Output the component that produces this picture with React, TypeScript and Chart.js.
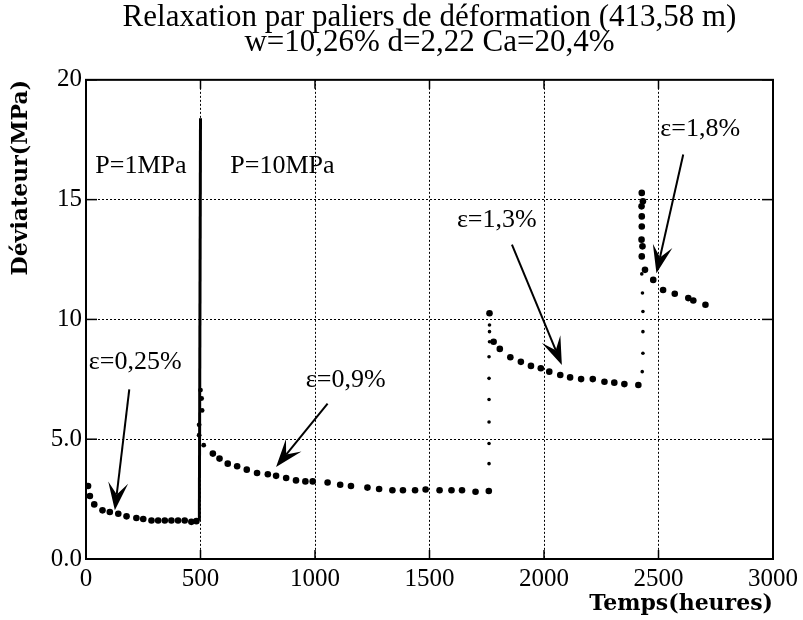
import React, { useEffect, useRef } from 'react';
import { Chart, registerables } from 'chart.js';

Chart.register(...registerables);

// ---- text ----
const titleLines = ['Relaxation par paliers de déformation (413,58 m)', 'w=10,26% d=2,22 Ca=20,4%'];
const xAxisTitle = 'Temps(heures)';
const yAxisTitle = 'Déviateur(MPa)';

// ---- ticks ----
const xTicks = [0, 500, 1000, 1500, 2000, 2500, 3000];
const xTickLabels = ['0', '500', '1000', '1500', '2000', '2500', '3000'];
const yTicks = [0, 5, 10, 15, 20];
const yTickLabels = ['0.0', '5.0', '10', '15', '20'];

// ---- data: step eps=0,25% (P=1MPa) ----
const seg1Time = [9, 17, 36, 72, 104, 141, 177, 220, 250, 286, 315, 344, 373, 402, 431, 460, 482];
const seg1Dev = [3.05, 2.63, 2.28, 2.03, 1.96, 1.89, 1.78, 1.71, 1.67, 1.61, 1.61, 1.61, 1.61, 1.61, 1.61, 1.55, 1.58];

// loading jump at ~500 h (dense trace)
const jump1Time = [495, 500];
const jump1Dev = [1.6, 18.4];
const jump1PtsTime = [500, 505, 507, 494, 494, 514];
const jump1PtsDev = [7.05, 6.7, 6.2, 5.6, 5.17, 4.75];

// ---- step eps=0,9% ----
const seg2Time = [554, 583, 619, 660, 702, 747, 794, 830, 874, 917, 958, 990, 1055, 1110, 1157, 1229, 1280, 1338, 1384, 1437, 1483, 1544, 1596, 1642, 1701, 1759];
const seg2Dev = [4.4, 4.19, 3.98, 3.87, 3.73, 3.59, 3.54, 3.47, 3.38, 3.28, 3.24, 3.24, 3.19, 3.1, 3.05, 2.98, 2.92, 2.87, 2.87, 2.87, 2.9, 2.87, 2.87, 2.87, 2.81, 2.84];

// jump at ~1760 h
const jump2Time = [1760, 1760, 1760, 1760, 1760, 1760, 1762, 1762, 1762];
const jump2Dev = [3.98, 4.82, 5.72, 6.66, 7.54, 8.44, 9.49, 9.77, 9.07];

// ---- step eps=1,3% ----
const seg3Time = [1762, 1780, 1807, 1853, 1899, 1943, 1986, 2023, 2071, 2114, 2162, 2213, 2264, 2307, 2351, 2412];
const seg3Dev = [10.26, 9.07, 8.77, 8.42, 8.23, 8.06, 7.96, 7.82, 7.68, 7.58, 7.51, 7.51, 7.4, 7.36, 7.3, 7.26];

// jump at ~2430 h
const jump3Time = [2429, 2432, 2432, 2432, 2430, 2427];
const jump3Dev = [7.82, 8.59, 9.49, 10.33, 11.1, 11.9];

// ---- step eps=1,8% ----
const seg4Time = [2427, 2432, 2426, 2427, 2427, 2426, 2430, 2427, 2441, 2477, 2520, 2571, 2630, 2652, 2705];
const seg4Dev = [15.28, 14.93, 14.72, 14.3, 13.88, 13.33, 13.05, 12.63, 12.07, 11.65, 11.23, 11.07, 10.89, 10.79, 10.61];

// ---- annotations (data coordinates) ----
const noteTexts = ['P=1MPa', 'P=10MPa', 'ε=0,25%', 'ε=0,9%', 'ε=1,3%', 'ε=1,8%'];
const noteTime = [240, 858, 215, 1134, 1794, 2682];
const noteDev = [16.4, 16.4, 8.23, 7.47, 14.16, 17.93];

const arrowFromTime = [189, 1055, 1860, 2608];
const arrowFromDev = [7.08, 6.49, 13.12, 16.88];
const arrowToTime = [126, 830, 2078, 2491];
const arrowToDev = [2.03, 3.84, 8.1, 11.93];

const pts = (xs: number[], ys: number[]) => xs.map((x, i) => ({ x, y: ys[i] }));

const framePlugin = {
  id: 'frameAndNotes',
  afterDraw(chart: any) {
    const { ctx, chartArea: a, scales } = chart;
    const xs = scales.x;
    const ys = scales.y;
    ctx.save();
    ctx.strokeStyle = '#000';
    ctx.fillStyle = '#000';
    ctx.setLineDash([]);
    // inward ticks
    ctx.lineWidth = 1.5;
    const seg = (x1: number, y1: number, x2: number, y2: number) => {
      ctx.beginPath();
      ctx.moveTo(x1, y1);
      ctx.lineTo(x2, y2);
      ctx.stroke();
    };
    xTicks.forEach((v) => {
      const px = xs.getPixelForValue(v);
      seg(px, a.bottom, px, a.bottom - 9);
      seg(px, a.top, px, a.top + 9);
    });
    yTicks.forEach((v) => {
      const py = ys.getPixelForValue(v);
      seg(a.left, py, a.left + 11, py);
      seg(a.right, py, a.right - 11, py);
    });
    // frame
    ctx.lineWidth = 2;
    ctx.strokeRect(a.left, a.top, a.right - a.left, a.bottom - a.top);
    // notes
    ctx.textAlign = 'center';
    ctx.textBaseline = 'middle';
    ctx.font = '26px "Liberation Serif"';
    noteTexts.forEach((t, i) => {
      ctx.fillText(t, xs.getPixelForValue(noteTime[i]), ys.getPixelForValue(noteDev[i]));
    });
    // arrows
    arrowFromTime.forEach((_, i) => {
      const x1 = xs.getPixelForValue(arrowFromTime[i]);
      const y1 = ys.getPixelForValue(arrowFromDev[i]);
      const x2 = xs.getPixelForValue(arrowToTime[i]);
      const y2 = ys.getPixelForValue(arrowToDev[i]);
      const ang = Math.atan2(y2 - y1, x2 - x1);
      const ux = Math.cos(ang), uy = Math.sin(ang);
      const nx = -uy, ny = ux;
      const L = 28, W = 10, N = 16;
      ctx.lineWidth = 2;
      seg(x1, y1, x2 - ux * N, y2 - uy * N);
      ctx.beginPath();
      ctx.moveTo(x2, y2);
      ctx.lineTo(x2 - ux * L + nx * W, y2 - uy * L + ny * W);
      ctx.lineTo(x2 - ux * N, y2 - uy * N);
      ctx.lineTo(x2 - ux * L - nx * W, y2 - uy * L - ny * W);
      ctx.closePath();
      ctx.fill();
    });
    ctx.restore();
  },
};

export default function App() {
  const ref = useRef<HTMLCanvasElement>(null);
  useEffect(() => {
    const big = { pointRadius: 3.3, pointBackgroundColor: '#000', pointBorderWidth: 0, showLine: false };
    const small = { pointRadius: 1.8, pointBackgroundColor: '#000', pointBorderWidth: 0, showLine: false };
    const chart = new Chart(ref.current as HTMLCanvasElement, {
      type: 'scatter',
      data: {
        datasets: [
          { label: 'eps 0,25%', data: pts(seg1Time, seg1Dev), ...big } as any,
          { label: 'jump 1', data: pts(jump1Time, jump1Dev), showLine: true, borderColor: '#000', borderWidth: 3, pointRadius: 0 } as any,
          { label: 'jump 1 pts', data: pts(jump1PtsTime, jump1PtsDev), ...small, pointRadius: 2.4 } as any,
          { label: 'eps 0,9%', data: pts(seg2Time, seg2Dev), ...big } as any,
          { label: 'jump 2', data: pts(jump2Time, jump2Dev), ...small } as any,
          { label: 'eps 1,3%', data: pts(seg3Time, seg3Dev), ...big } as any,
          { label: 'jump 3', data: pts(jump3Time, jump3Dev), ...small } as any,
          { label: 'eps 1,8%', data: pts(seg4Time, seg4Dev), ...big } as any,
        ],
      },
      options: {
        animation: false,
        responsive: false,
        devicePixelRatio: 1,
        layout: { padding: { top: 0, right: 28, bottom: 0, left: 0 } },
        plugins: {
          legend: { display: false },
          tooltip: { enabled: false },
          title: {
            display: true,
            text: titleLines,
            fullSize: false,
            color: '#000',
            font: { family: '"Liberation Serif"', size: 31, weight: 'normal', lineHeight: 0.82 },
            padding: { top: 5, bottom: 24 },
          },
        },
        scales: {
          x: {
            type: 'linear',
            min: 0,
            max: 3000,
            afterBuildTicks: (s: any) => {
              s.ticks = xTicks.map((v) => ({ value: v }));
            },
            afterFit: (s: any) => {
              s.height = 61;
            },
            ticks: {
              color: '#000',
              font: { family: '"Liberation Serif"', size: 25 },
              padding: 5,
              maxRotation: 0,
              autoSkip: false,
              callback: (v: any) => xTickLabels[xTicks.indexOf(Number(v))],
            },
            grid: { color: '#000', lineWidth: 1, drawTicks: false },
            border: { display: false, dash: [2, 2] },
            title: {
              display: true,
              text: xAxisTitle,
              align: 'end',
              color: '#000',
              font: { family: '"DejaVu Serif"', size: 22, weight: 'bold' },
              padding: { top: 0, bottom: 3 },
            },
          },
          y: {
            type: 'linear',
            min: 0,
            max: 20,
            afterBuildTicks: (s: any) => {
              s.ticks = yTicks.map((v) => ({ value: v }));
            },
            afterFit: (s: any) => {
              s.width = 86;
            },
            ticks: {
              color: '#000',
              font: { family: '"Liberation Serif"', size: 25 },
              padding: 4,
              autoSkip: false,
              callback: (v: any) => yTickLabels[yTicks.indexOf(Number(v))],
            },
            grid: { color: '#000', lineWidth: 1, drawTicks: false },
            border: { display: false, dash: [2, 2] },
            title: {
              display: true,
              text: yAxisTitle,
              align: 'end',
              color: '#000',
              font: { family: '"DejaVu Serif"', size: 22, weight: 'bold' },
              padding: { top: 8, bottom: 0 },
            },
          },
        },
      } as any,
      plugins: [framePlugin],
    });
    return () => chart.destroy();
  }, []);
  return (
    <div style={{ position: 'fixed', left: 0, top: 0, width: 803, height: 620, background: '#fff' }}>
      <canvas ref={ref} width={803} height={620} style={{ display: 'block' }} />
    </div>
  );
}
